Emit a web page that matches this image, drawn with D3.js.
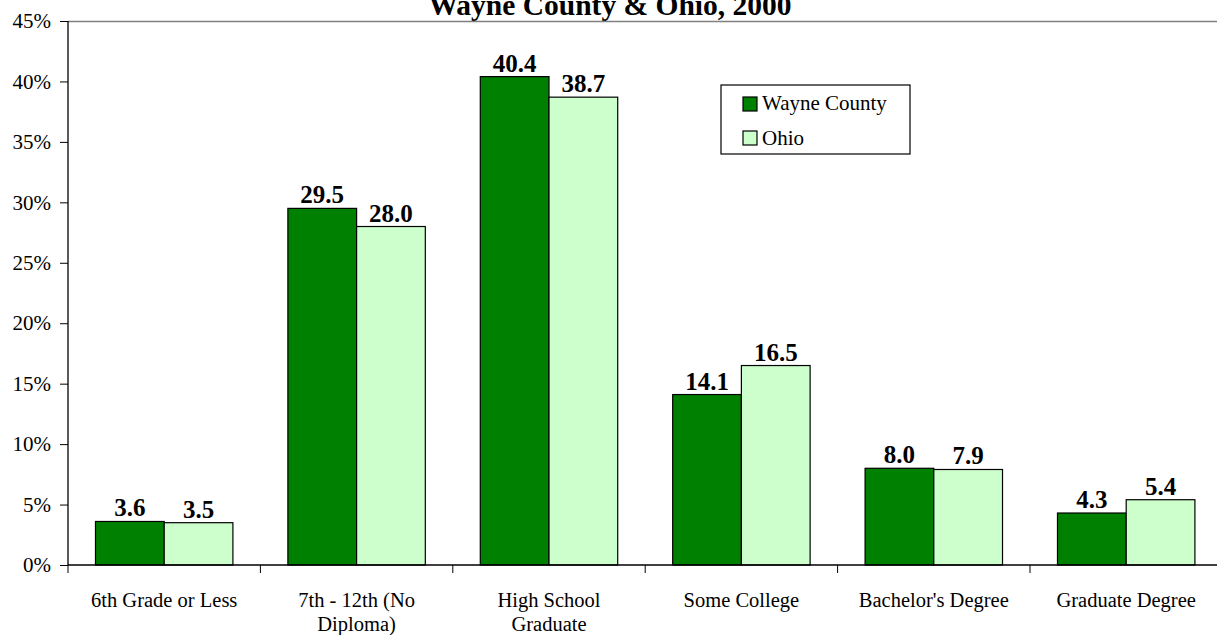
<!DOCTYPE html>
<html><head><meta charset="utf-8">
<script src="https://cdn.jsdelivr.net/npm/d3@7"></script>
<style>body{margin:0;background:#fff;overflow:hidden}svg{display:block}text{font-family:"Liberation Serif","Times New Roman",serif}</style>
</head><body>
<svg id="c" width="1217" height="635"></svg>
<script>
const categories = [["6th Grade or Less"],["7th - 12th (No","Diploma)"],["High School","Graduate"],["Some College"],["Bachelor's Degree"],["Graduate Degree"]];
const seriesNames = ["Wayne County","Ohio"];
const wayne = [3.6,29.5,40.4,14.1,8.0,4.3];
const ohio = [3.5,28.0,38.7,16.5,7.9,5.4];
const yTicks = [0,5,10,15,20,25,30,35,40,45];
const colors = ["#008000","#CCFFCC"];

(function(){
const svg = d3.select("#c");
const pL = 68, pT = 21, pB = 565, catW = 192.4;
const x0 = d3.scaleBand().domain(d3.range(categories.length)).range([pL, pL + catW*categories.length]);
const bw = catW/2.8;
const x1 = d3.scaleBand().domain([0,1]).range([bw*0.4, bw*2.4]);
const y = d3.scaleLinear().domain([0,45]).range([pB, pT]);

svg.append("text").attr("x",610).attr("y",15).attr("text-anchor","middle").attr("font-weight","bold").attr("font-size",29.5).text("Wayne County & Ohio, 2000");

svg.append("line").attr("x1",pL).attr("x2",1217).attr("y1",pT+0.5).attr("y2",pT+0.5).attr("stroke","#808080").attr("stroke-width",1.5);

const data = [wayne, ohio];
data.forEach((s,si)=>{
  svg.append("g").selectAll("rect").data(s).join("rect")
    .attr("x",(d,i)=>x0(i)+x1(si)).attr("width",x1.bandwidth())
    .attr("y",d=>y(d)).attr("height",d=>pB-y(d))
    .attr("fill",colors[si]).attr("stroke","#000").attr("stroke-width",1.2);
  svg.append("g").selectAll("text").data(s).join("text")
    .attr("x",(d,i)=>x0(i)+x1(si)+x1.bandwidth()/2).attr("y",d=>y(d)-5)
    .attr("text-anchor","middle").attr("font-weight","bold").attr("font-size",25)
    .text(d=>d.toFixed(1));
});

const ya = svg.append("g").attr("transform",`translate(${pL},0)`)
  .call(d3.axisLeft(y).tickValues(yTicks).tickFormat(d=>d+"%").tickSize(8).tickPadding(9));
ya.select(".domain").attr("stroke","#000").attr("stroke-width",1.3).attr("d",`M0,${pT}V${pB}`);
ya.selectAll("text").attr("font-size",21).attr("font-family","Liberation Serif").attr("fill","#000");
ya.selectAll("line").attr("stroke","#000");

const xa = svg.append("g").attr("transform",`translate(0,${pB})`);
xa.append("line").attr("x1",pL).attr("x2",1217).attr("stroke","#000").attr("stroke-width",1.3);
xa.selectAll(".tk").data(d3.range(categories.length+1)).join("line").attr("class","tk")
  .attr("x1",i=>pL+i*catW).attr("x2",i=>pL+i*catW).attr("y1",0).attr("y2",8).attr("stroke","#000");
const cl = xa.selectAll(".cl").data(categories).join("text").attr("class","cl")
  .attr("x",(d,i)=>x0(i)+catW/2).attr("y",42).attr("text-anchor","middle").attr("font-size",20.5);
cl.selectAll("tspan").data(d=>d).join("tspan").attr("x",function(){return this.parentNode.getAttribute("x");}).attr("dy",(d,i)=>i?23.5:0).text(d=>d);

const lg = svg.append("g").attr("transform","translate(721,85)");
lg.append("rect").attr("width",189).attr("height",69).attr("fill","#fff").attr("stroke","#000").attr("stroke-width",1.2);
seriesNames.forEach((n,i)=>{
  lg.append("rect").attr("x",22).attr("y",12+i*34).attr("width",14).attr("height",14).attr("fill",colors[i]).attr("stroke","#000").attr("stroke-width",1.2);
  lg.append("text").attr("x",41).attr("y",25+i*35).attr("font-size",21).text(n);
});
})();
</script>
</body></html>
